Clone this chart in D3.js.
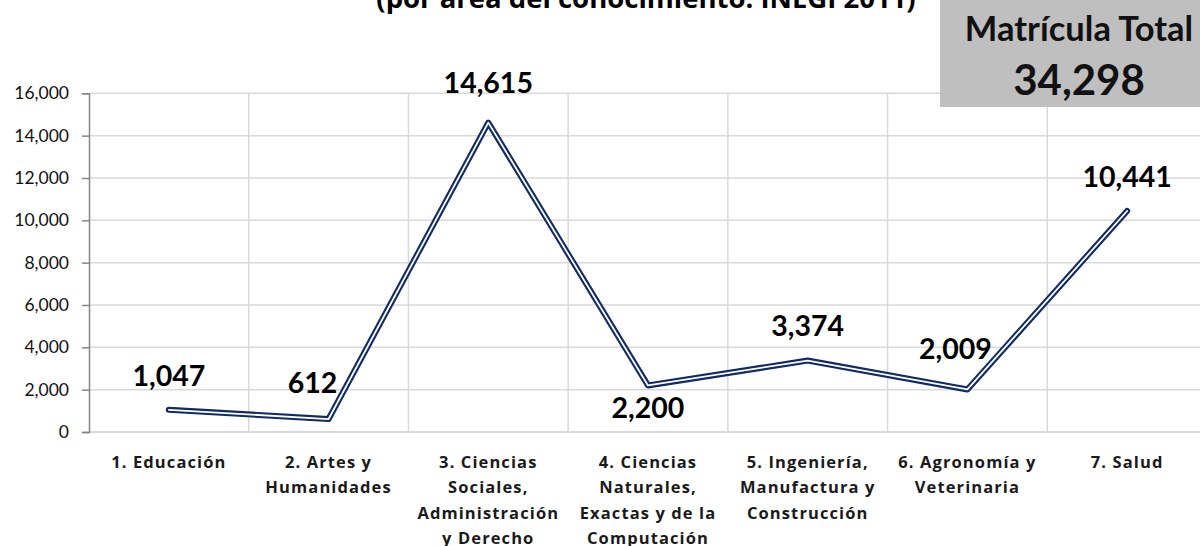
<!DOCTYPE html>
<html><head><meta charset="utf-8">
<script src="https://cdn.jsdelivr.net/npm/d3@7"></script>
<style>body{margin:0;background:#fff}svg{display:block}</style>
</head><body>
<svg id="c" width="1200" height="546"></svg>
<script>
const categories = [
  "1. Educación",
  "2. Artes y\nHumanidades",
  "3. Ciencias\nSociales,\nAdministración\ny Derecho",
  "4. Ciencias\nNaturales,\nExactas  y de la\nComputación",
  "5. Ingeniería,\nManufactura  y\nConstrucción",
  "6. Agronomía  y\nVeterinaria",
  "7. Salud"
];
const values = [1047, 612, 14615, 2200, 3374, 2009, 10441];
const yTicks = [0, 2000, 4000, 6000, 8000, 10000, 12000, 14000, 16000];
const titleText = "(por área del conocimiento. INEGI 2011)";
const totalLabel = "Matrícula Total";
const totalValue = 34298;

(function () {
const svg = d3.select("#c");
const W = 1200;
const pL = 89, pR = 1207, pT = 93.3, pB = 432;
const fmt = d3.format(",");

const x = d3.scaleBand().domain(categories).range([pL, pR]).padding(0);
const y = d3.scaleLinear().domain([0, 16000]).range([pB, pT]);

svg.append("g").selectAll("line").data(yTicks.filter(d => d > 0)).join("line")
  .attr("x1", pL).attr("x2", W).attr("y1", d => y(d)).attr("y2", d => y(d))
  .attr("stroke", "#d9d9d9").attr("stroke-width", 1.5);
svg.append("g").selectAll("line").data(categories.slice(1)).join("line")
  .attr("x1", d => x(d)).attr("x2", d => x(d)).attr("y1", pT).attr("y2", pB)
  .attr("stroke", "#d9d9d9").attr("stroke-width", 1.5);
svg.append("line").attr("x1", pL).attr("x2", W).attr("y1", pB).attr("y2", pB)
  .attr("stroke", "#d9d9d9").attr("stroke-width", 2);

const yAxis = svg.append("g").attr("transform", `translate(${pL},0)`)
  .call(d3.axisLeft(y).tickValues(yTicks).tickFormat(fmt).tickSize(7).tickPadding(13));
yAxis.select(".domain").attr("stroke", "#868686").attr("stroke-width", 1.5);
yAxis.selectAll(".tick line").attr("stroke", "#868686").attr("stroke-width", 1.5);
yAxis.selectAll("text").attr("font-family", "Lato, sans-serif").attr("font-size", 17.5).attr("fill", "#111");

const cat = svg.append("g").selectAll("text").data(categories).join("text")
  .attr("x", d => x(d) + x.bandwidth() / 2)
  .attr("y", 467.5)
  .attr("text-anchor", "middle")
  .attr("font-family", "'Open Sans', sans-serif").attr("font-weight", 700)
  .attr("font-size", 16.5).attr("letter-spacing", 1.1).attr("fill", "#1a1a1a");
cat.selectAll("tspan").data(d => d.split("\n")).join("tspan")
  .attr("x", function () { return d3.select(this.parentNode).attr("x"); })
  .attr("dy", (d, i) => i === 0 ? 0 : 25.5)
  .text(d => d);

const line = d3.line().x((d, i) => x(categories[i]) + x.bandwidth() / 2).y(d => y(d));
svg.append("path").datum(values).attr("d", line).attr("fill", "none")
  .attr("stroke", "#0f2a66").attr("stroke-width", 6)
  .attr("stroke-linejoin", "round").attr("stroke-linecap", "round");
svg.append("path").datum(values).attr("d", line).attr("fill", "none")
  .attr("stroke", "#fff").attr("stroke-width", 1.8)
  .attr("stroke-linejoin", "round").attr("stroke-linecap", "round");

const offs = [[0, -34], [-16, -36], [0, -40], [0, 23], [0, -35], [-12, -40], [0, -34]];
svg.append("g").selectAll("text").data(values).join("text")
  .attr("x", (d, i) => x(categories[i]) + x.bandwidth() / 2 + offs[i][0])
  .attr("y", (d, i) => y(d) + offs[i][1])
  .attr("dy", "0.35em")
  .attr("text-anchor", "middle")
  .attr("font-family", "Lato, sans-serif").attr("font-weight", 700)
  .attr("font-size", 28.5).attr("fill", "#000")
  .text(d => fmt(d));

svg.append("text").attr("x", 646).attr("y", 8).attr("text-anchor", "middle")
  .attr("font-family", "'Open Sans', sans-serif").attr("font-weight", 700)
  .attr("font-size", 27.5).attr("fill", "#000").text(titleText);

svg.append("rect").attr("x", 940).attr("y", 0).attr("width", 270).attr("height", 107)
  .attr("fill", "#bfbfbf");
svg.append("text").attr("x", 1079).attr("y", 41).attr("text-anchor", "middle")
  .attr("font-family", "Lato, sans-serif").attr("font-weight", 700)
  .attr("font-size", 34.5).attr("fill", "#111").text(totalLabel);
svg.append("text").attr("x", 1079).attr("y", 95).attr("text-anchor", "middle")
  .attr("font-family", "Lato, sans-serif").attr("font-weight", 700)
  .attr("font-size", 42).attr("fill", "#111").text(fmt(totalValue));
})();
</script>
</body></html>
